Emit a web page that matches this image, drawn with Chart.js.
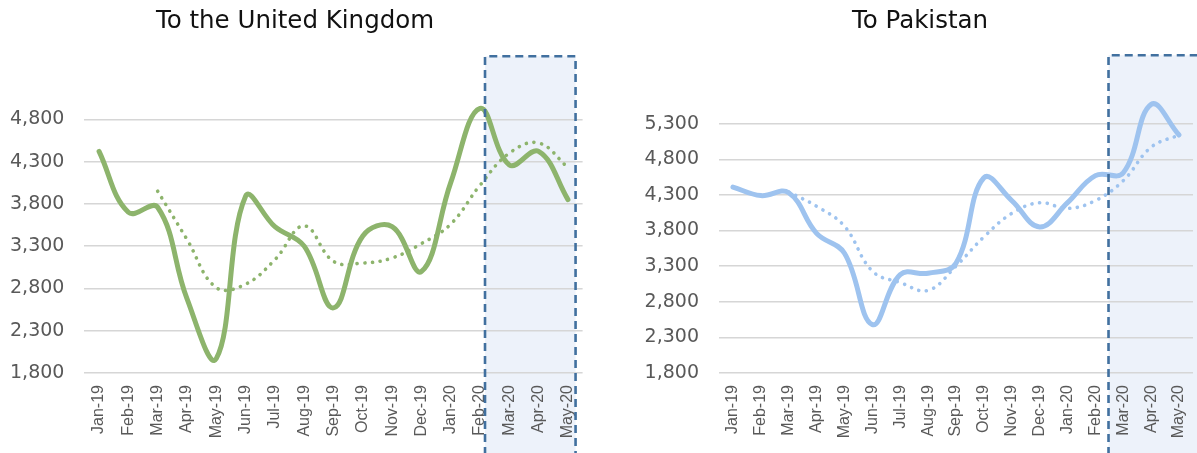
<!DOCTYPE html>
<html>
<head>
<meta charset="utf-8">
<script src="https://cdn.jsdelivr.net/npm/chart.js@4.4.1/dist/chart.umd.min.js"></script>
<style>
  html, body { margin: 0; padding: 0; background: #ffffff; overflow: hidden; }
  .wrap { position: absolute; top: 0; height: 453px; }
  #wrapL { left: 0; width: 598px; }
  #wrapR { left: 598px; width: 599px; }
  .ttl { position: absolute; top: 5px; font-family: "DejaVu Sans", sans-serif; font-size: 24.5px; color: #111; white-space: nowrap; transform: translateX(-50%); line-height: 30px; }
  #ttlL { left: 295px; }
  #ttlR { left: 920px; }
  canvas { display: block; }
</style>
</head>
<body>
<div id="wrapL" class="wrap"><canvas id="cL" width="598" height="453"></canvas></div>
<div id="wrapR" class="wrap"><canvas id="cR" width="599" height="453"></canvas></div>
<div id="ttlL" class="ttl">To the United Kingdom</div>
<div id="ttlR" class="ttl">To Pakistan</div>
<script>
// ---------- data ----------
const months = ['Jan-19','Feb-19','Mar-19','Apr-19','May-19','Jun-19','Jul-19','Aug-19','Sep-19','Oct-19','Nov-19','Dec-19','Jan-20','Feb-20','Mar-20','Apr-20','May-20'];

const ukValues  = [4420, 3700, 3760, 2680, 1970, 3890, 3530, 3300, 2570, 3420, 3530, 3000, 4050, 4930, 4260, 4420, 3850];
const ukAverage = [null, null, 3950, 3380, 2810, 2850, 3140, 3540, 3120, 3100, 3160, 3330, 3560, 4020, 4400, 4520, 4230];

const pkValues  = [4410, 4290, 4330, 3760, 3480, 2480, 3180, 3200, 3340, 4540, 4220, 3850, 4190, 4570, 4610, 5570, 5140];
const pkAverage = [null, null, 4340, 4140, 3860, 3230, 3070, 2960, 3300, 3710, 4040, 4190, 4110, 4220, 4500, 4970, 5140];

const ukTicks = [1800, 2300, 2800, 3300, 3800, 4300, 4800];
const pkTicks = [1800, 2300, 2800, 3300, 3800, 4300, 4800, 5300];

// highlighted period (Feb-20 .. May-20), in category-index / value units
const ukShade = { from: 13.17, to: 16.26, top: 5545 };
const pkShade = { from: 13.47, to: 17.8, top: 6260 };

// ---------- styles ----------
const GREEN = '#8DB46C';
const BLUE = '#9EC3EF';
const GRID = '#D6D6D6';
const TICK = '#595959';

const shadePlugin = {
  id: 'shadeBox',
  beforeDraw(chart, args, opts) {
    const ctx = chart.ctx, xs = chart.scales.x, ys = chart.scales.y;
    const x0 = xs.getPixelForValue(opts.from);
    const x1 = Math.min(xs.getPixelForValue(opts.to), chart.width + 10);
    const y0 = ys.getPixelForValue(opts.top);
    ctx.save();
    ctx.fillStyle = '#EDF2FA';
    ctx.fillRect(x0, y0, x1 - x0, chart.height - y0 + 5);
    ctx.restore();
  },
  afterDraw(chart, args, opts) {
    const ctx = chart.ctx, xs = chart.scales.x, ys = chart.scales.y;
    const x0 = xs.getPixelForValue(opts.from);
    const x1 = xs.getPixelForValue(opts.to);
    const y0 = ys.getPixelForValue(opts.top);
    ctx.save();
    ctx.strokeStyle = '#41709F';
    ctx.lineWidth = 2.6;
    ctx.setLineDash([8, 5]);
    ctx.beginPath();
    ctx.moveTo(x0, chart.height + 2);
    ctx.lineTo(x0, y0);
    ctx.lineTo(x1, y0);
    ctx.lineTo(x1, chart.height + 2);
    ctx.stroke();
    ctx.restore();
  }
};

function makeChart(id, values, avg, ticks, yMax, color, shade, axisWidth, padRight, padTop) {
  return new Chart(document.getElementById(id), {
    type: 'line',
    data: {
      labels: months,
      datasets: [
        { data: values, borderColor: color, borderWidth: 5, tension: 0.4, pointRadius: 0,
          fill: false, borderCapStyle: 'round', borderJoinStyle: 'round' },
        { data: avg, borderColor: color, borderWidth: 3.6, borderDash: [0.1, 7.6], borderCapStyle: 'round',
          tension: 0.4, pointRadius: 0, fill: false, spanGaps: false }
      ]
    },
    options: {
      responsive: false,
      animation: false,
      devicePixelRatio: 1,
      layout: { padding: { left: 0, right: padRight, top: padTop, bottom: 0 } },
      plugins: {
        legend: { display: false },
        tooltip: { enabled: false },
        title: { display: false },
        shadeBox: shade
      },
      scales: {
        x: {
          type: 'category',
          offset: true,
          grid: { display: false, drawTicks: false },
          border: { display: false },
          ticks: {
            autoSkip: false, minRotation: 90, maxRotation: 90, padding: 12,
            color: TICK, font: { family: 'Liberation Sans', size: 16 }
          },
          afterFit(scale) { scale.height = 80; scale.paddingLeft = 0; scale.paddingRight = 0; }
        },
        y: {
          min: 1800, max: yMax,
          afterBuildTicks(scale) { scale.ticks = ticks.map(v => ({ value: v })); },
          grid: { color: GRID, lineWidth: 1.5, drawTicks: false },
          border: { display: false },
          ticks: {
            padding: 20, color: TICK,
            font: { family: 'DejaVu Sans', size: 19 },
            callback: v => Number(v).toLocaleString('en-US')
          },
          afterFit(scale) { scale.width = axisWidth; scale.paddingTop = 0; scale.paddingBottom = 0; }
        }
      }
    },
    plugins: [shadePlugin]
  });
}

makeChart('cL', ukValues, ukAverage, ukTicks, 5300, GREEN, ukShade, 84.4, 15.4, 77);
makeChart('cR', pkValues, pkAverage, pkTicks, 5800, BLUE, pkShade, 121, 4, 88);
</script>
</body>
</html>
